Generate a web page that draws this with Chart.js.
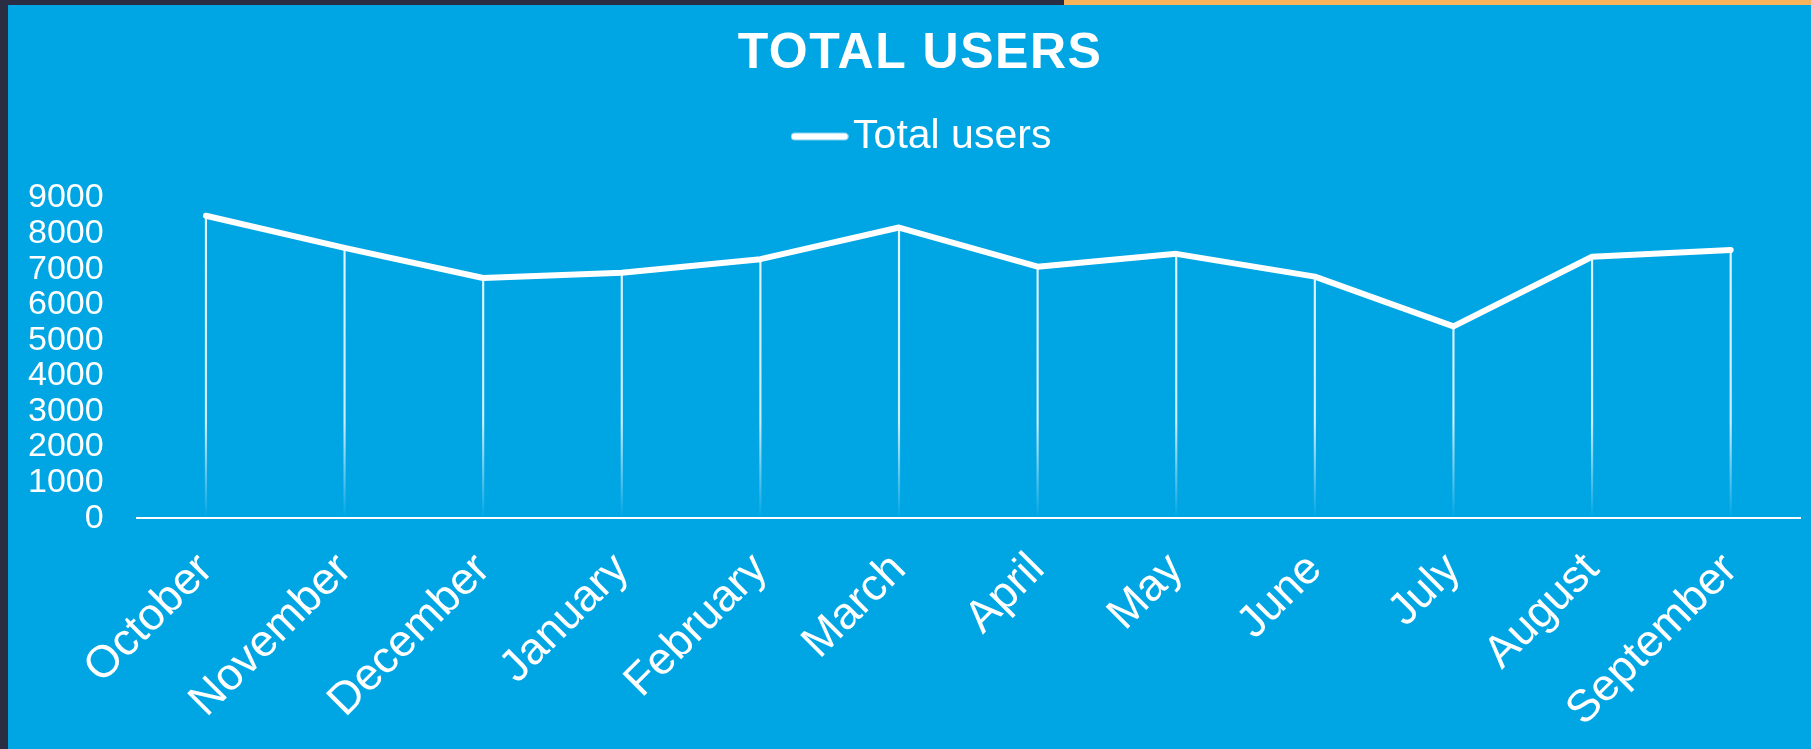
<!DOCTYPE html>
<html>
<head>
<meta charset="utf-8">
<script src="https://cdn.jsdelivr.net/npm/chart.js@4.4.1/dist/chart.umd.min.js"></script>
<style>
  html, body { margin: 0; padding: 0; background: #2b2e43; width: 1811px; height: 749px; overflow: hidden; }
  #topbar { position: absolute; left: 1064px; top: 0; width: 747px; height: 5px; background: #f9b45b; }
  #panel { position: absolute; left: 8px; top: 5px; width: 1803px; height: 744px; background: #00a6e4; }
</style>
</head>
<body>
<div id="topbar"></div>
<div id="panel"><canvas id="myChart" width="1803" height="744"></canvas></div>
<script>
// data
const months = ['October', 'November', 'December', 'January', 'February', 'March',
                'April', 'May', 'June', 'July', 'August', 'September'];
const totalUsers = [8500, 7600, 6750, 6900, 7280, 8170, 7070, 7430, 6790, 5390, 7350, 7540];
const yTickValues = [0, 1000, 2000, 3000, 4000, 5000, 6000, 7000, 8000, 9000];

const chartTitle = 'TOTAL USERS';
const seriesName = 'Total users';

Chart.defaults.font.family = "'Liberation Sans', Arial, sans-serif";
Chart.defaults.color = '#ffffff';

// legend marker: a short thick line with round ends, sitting close to the text
const legendMark = document.createElement('canvas');
legendMark.width = 58;
legendMark.height = 10;
(function () {
  const c = legendMark.getContext('2d');
  c.strokeStyle = '#ffffff';
  c.lineWidth = 7;
  c.lineCap = 'round';
  c.beginPath();
  c.moveTo(4, 5);
  c.lineTo(54, 5);
  c.stroke();
})();

// push the plot down under the legend, and nudge title/legend to the right a little
const headerTweaks = {
  id: 'headerTweaks',
  beforeInit(chart) {
    const fit = chart.legend.fit;
    chart.legend.fit = function () {
      fit.bind(chart.legend)();
      this.height += 31;
    };
  },
  afterLayout(chart) {
    chart.legend.left += 15;
    chart.legend.right += 15;
    chart.titleBlock.left += 6;
    chart.titleBlock.right += 6;
  }
};

// fading drop lines from each point to the axis
function dropFill(ctx) {
  const area = ctx.chart.chartArea;
  if (!area) return 'rgba(255,255,255,0.8)';
  const g = ctx.chart.ctx.createLinearGradient(0, area.bottom, 0, area.top);
  g.addColorStop(0, 'rgba(255,255,255,0)');
  g.addColorStop(0.3, 'rgba(255,255,255,0.8)');
  g.addColorStop(1, 'rgba(255,255,255,0.9)');
  return g;
}

let el = document.getElementById('myChart');
let myChart = new Chart(el, {
  type: 'line',
  data: {
    labels: months,
    datasets: [{
      label: seriesName,
      data: totalUsers,
      borderColor: '#ffffff',
      backgroundColor: '#ffffff',
      borderWidth: 6,
      borderCapStyle: 'round',
      borderJoinStyle: 'round',
      pointRadius: 0,
      tension: 0,
      order: 0
    }, {
      type: 'bar',
      label: 'drop',
      data: totalUsers,
      backgroundColor: dropFill,
      barThickness: 1.5,
      order: 1
    }]
  },
  options: {
    responsive: false,
    animation: false,
    layout: { padding: { left: 20, right: 11, top: 0, bottom: 4 } },
    plugins: {
      tooltip: { enabled: false },
      title: {
        display: true,
        text: chartTitle,
        color: '#ffffff',
        font: { size: 50, weight: 'bold' },
        padding: { top: 19, bottom: 22 }
      },
      legend: {
        display: true,
        labels: {
          color: '#ffffff',
          font: { size: 41 },
          usePointStyle: true,
          pointStyle: legendMark,
          pointStyleWidth: 26,
          padding: 10,
          filter: item => item.text === seriesName
        }
      }
    },
    scales: {
      x: {
        offset: true,
        grid: { display: false, drawTicks: false },
        border: { display: true, color: '#ffffff', width: 2 },
        // chart.js reserves the tick padding twice
        afterFit: scale => { scale.height -= 17; },
        ticks: {
          color: '#ffffff',
          font: { size: 45 },
          maxRotation: 45,
          minRotation: 45,
          autoSkip: false,
          padding: 25
        }
      },
      y: {
        min: 0,
        max: 9000,
        grid: { display: false, drawTicks: false },
        border: { display: false },
        afterBuildTicks: axis => { axis.ticks = yTickValues.map(v => ({ value: v })); },
        afterFit: scale => { scale.width -= 33; },
        ticks: {
          color: '#ffffff',
          font: { size: 34 },
          padding: 33,
          autoSkip: false,
          callback: v => String(v)
        }
      }
    }
  },
  plugins: [headerTweaks]
});

// title is letter-spaced in the original
const titleDraw = myChart.titleBlock.draw;
myChart.titleBlock.draw = function (...args) {
  const c = this.ctx;
  c.save();
  c.letterSpacing = '1.5px';
  titleDraw.apply(this, args);
  c.restore();
};
myChart.draw();
</script>
</body>
</html>
